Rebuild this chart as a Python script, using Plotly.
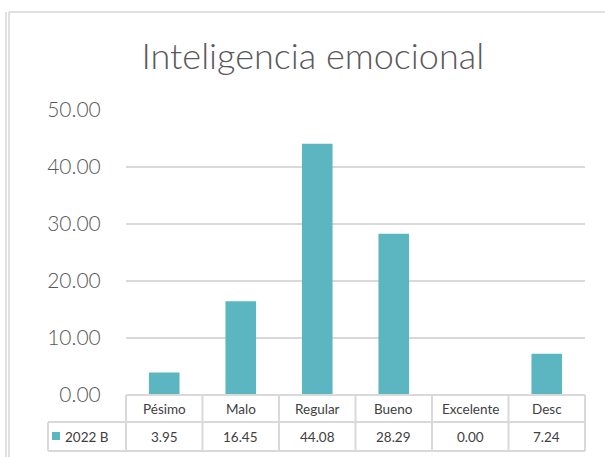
import plotly.graph_objects as go

categorias = ["Pésimo", "Malo", "Regular", "Bueno", "Excelente", "Desc"]
valores = [3.95, 16.45, 44.08, 28.29, 0.00, 7.24]
serie = "2022 B"
y_ticks = [0, 10, 20, 30, 40, 50]

W, H = 605, 457
# zona de trazado en pixeles
L, R, T, B = 126, 585, 110, 395
color_barra = "#5BB6C1"
color_linea = "#D9D9D9"
gris_texto = "#595959"


def px_x(x):
    return (x - L) / (R - L)


def px_y(y):
    return (B - y) / (B - T)


fig = go.Figure()
fig.add_trace(go.Bar(
    x=categorias,
    y=valores,
    marker=dict(color=color_barra, line=dict(width=0)),
    width=0.4,
    name=serie,
    showlegend=False,
))

n = len(categorias)
y_cab = px_y(422)
y_fin = px_y(451)
x_leyenda = px_x(48)

lineas = []
# lineas horizontales de la tabla
lineas.append(dict(x0=0, x1=1, y0=0, y1=0))
lineas.append(dict(x0=x_leyenda, x1=1, y0=y_cab, y1=y_cab))
lineas.append(dict(x0=x_leyenda, x1=1, y0=y_fin, y1=y_fin))
# lineas verticales
for i in range(n + 1):
    lineas.append(dict(x0=i / n, x1=i / n, y0=0, y1=y_fin))
lineas.append(dict(x0=x_leyenda, x1=x_leyenda, y0=y_cab, y1=y_fin))

for ln in lineas:
    fig.add_shape(type="line", xref="paper", yref="paper",
                  line=dict(color=color_linea, width=2), layer="above", **ln)

# marco del grafico
for ln in [dict(x0=px_x(9), x1=px_x(605), y0=px_y(12), y1=px_y(12)),
           dict(x0=px_x(9), x1=px_x(9), y0=px_y(12), y1=px_y(457)),
           dict(x0=px_x(6), x1=px_x(6), y0=px_y(12), y1=px_y(457))]:
    fig.add_shape(type="line", xref="paper", yref="paper",
                  line=dict(color="#D6D6D6", width=1.5), **ln)

# textos de la tabla
fuente_tabla = dict(size=13.5, color="#404040", family="Lato")
for i, (cat, val) in enumerate(zip(categorias, valores)):
    xc = (i + 0.5) / n
    fig.add_annotation(x=xc, y=(0 + y_cab) / 2, xref="paper", yref="paper",
                       text=cat, showarrow=False, xanchor="center",
                       yanchor="middle", font=fuente_tabla)
    fig.add_annotation(x=xc, y=(y_cab + y_fin) / 2, xref="paper", yref="paper",
                       text=f"{val:.2f}", showarrow=False, xanchor="center",
                       yanchor="middle", font=fuente_tabla)

# clave de leyenda en la tabla
fig.add_shape(type="rect", xref="paper", yref="paper",
              x0=px_x(52), x1=px_x(60), y0=px_y(432), y1=px_y(440),
              fillcolor=color_barra, line=dict(width=0))
fig.add_annotation(x=px_x(63), y=(y_cab + y_fin) / 2, xref="paper", yref="paper",
                   text=serie, showarrow=False, xanchor="left",
                   yanchor="middle", font=fuente_tabla)

fig.update_layout(
    width=W, height=H,
    margin=dict(l=L, r=W - R, t=T, b=H - B, pad=0),
    plot_bgcolor="white",
    paper_bgcolor="white",
    font=dict(family="Lato", color=gris_texto),
    bargap=0.6,
    title=dict(text="Inteligencia emocional", x=0.517, xanchor="center",
               y=1 - 56 / H, yanchor="middle",
               font=dict(size=36, color=gris_texto, family="Lato", weight=300)),
)
fig.update_xaxes(showticklabels=False, showgrid=False, zeroline=False,
                 showline=False, range=[-0.5, n - 0.5])
fig.update_yaxes(range=[0, 50], tickvals=y_ticks, tickformat=".2f",
                 showgrid=True, gridcolor=color_linea, gridwidth=1.5,
                 zeroline=False, ticks="outside", ticklen=20, tickcolor="white",
                 tickfont=dict(size=21, color=gris_texto, family="Lato", weight=300))

fig.write_html("out.html", config={"displayModeBar": False},
               post_script="document.body.style.margin='0px';")
